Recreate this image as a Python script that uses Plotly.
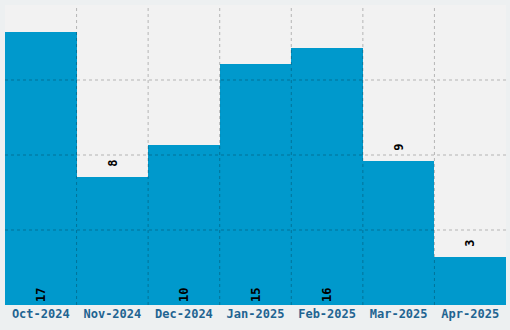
import plotly.graph_objects as go

months = ["Oct-2024", "Nov-2024", "Dec-2024", "Jan-2025", "Feb-2025", "Mar-2025", "Apr-2025"]
counts = [17, 8, 10, 15, 16, 9, 3]
label_pos = ["inside", "outside", "inside", "inside", "inside", "outside", "outside"]

idx = list(range(len(months)))
ymax = max(counts) * 1.1
xlo, xhi = -0.5, len(months) - 0.5
grid_color = "rgba(0,0,0,0.25)"
grid_dash = "3px,3px"

labels = [("\u00a0" + str(c)) if p == "outside" else str(c) for c, p in zip(counts, label_pos)]

fig = go.Figure()
fig.add_trace(go.Bar(
    x=idx, y=counts, width=1,
    marker=dict(color="#0099cc", line=dict(width=0)),
    text=labels,
    textposition=label_pos,
    insidetextanchor="start",
    textangle=-90,
    textfont=dict(family="DejaVu Sans Mono", size=12, color="#000000", weight="bold"),
    cliponaxis=False,
    hoverinfo="skip",
))

# dashed grid drawn on top of the bars: vertical lines at category boundaries
vx, vy = [], []
for i in idx[:-1]:
    vx += [i + 0.5, i + 0.5, None]
    vy += [0, ymax, None]
fig.add_trace(go.Scatter(x=vx, y=vy, mode="lines",
                         line=dict(color=grid_color, width=1, dash=grid_dash),
                         hoverinfo="skip", showlegend=False))
# horizontal lines at quarters of the value range
hx, hy = [], []
for k in (1, 2, 3):
    hx += [xlo, xhi, None]
    hy += [ymax * k / 4, ymax * k / 4, None]
fig.add_trace(go.Scatter(x=hx, y=hy, mode="lines",
                         line=dict(color=grid_color, width=1, dash=grid_dash),
                         hoverinfo="skip", showlegend=False))

fig.update_layout(
    width=510, height=330,
    margin=dict(l=5, r=4, t=5, b=25),
    paper_bgcolor="#edf0f1",
    plot_bgcolor="#f2f2f2",
    showlegend=False,
    bargap=0,
    xaxis=dict(
        range=[xlo, xhi],
        tickvals=idx, ticktext=months,
        showgrid=False, zeroline=False, ticks="",
        tickfont=dict(family="DejaVu Sans Mono", size=12, color="#1f6491", weight="bold"),
    ),
    yaxis=dict(
        range=[0, ymax],
        showticklabels=False, ticks="",
        showgrid=False, zeroline=False,
    ),
)

fig.write_html("out.html")
